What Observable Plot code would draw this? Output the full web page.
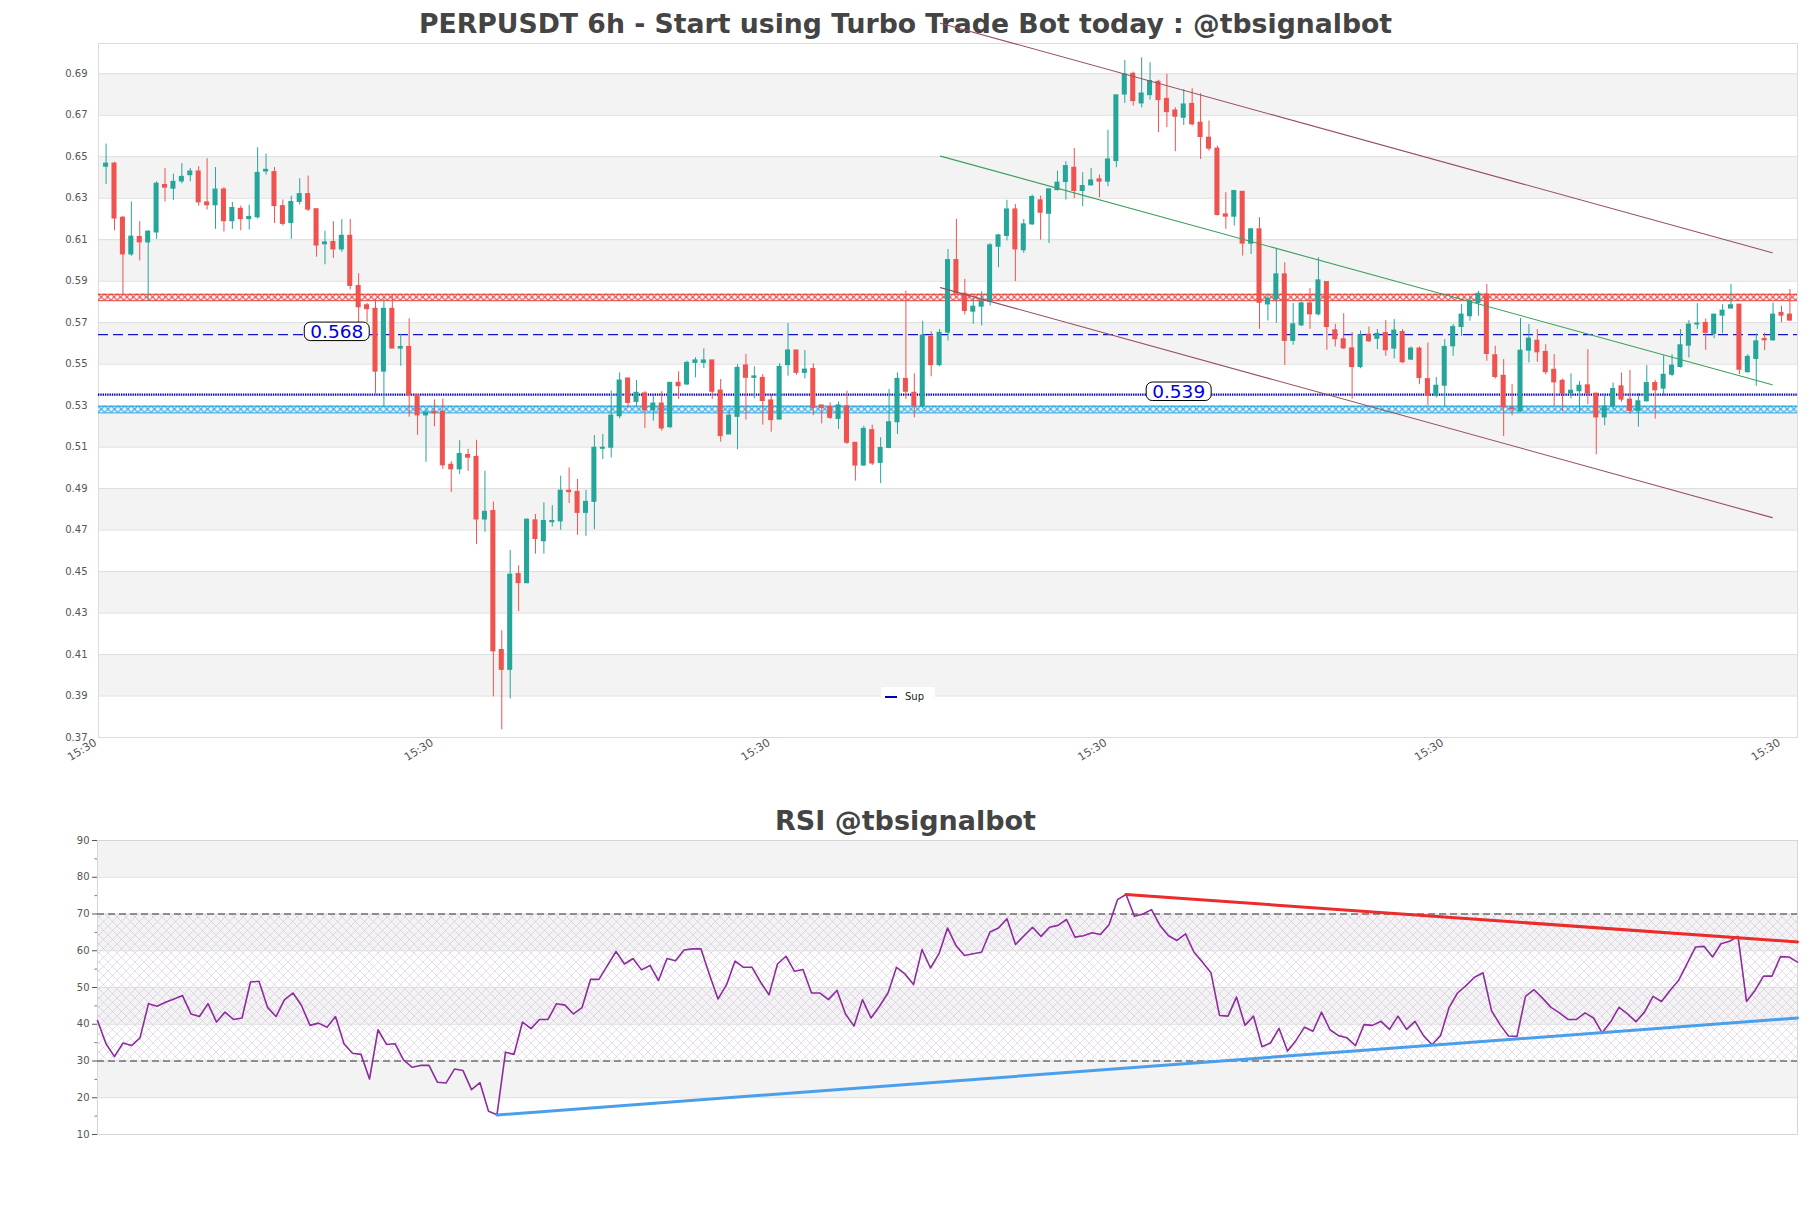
<!DOCTYPE html>
<html><head><meta charset="utf-8">
<script src="https://cdn.jsdelivr.net/npm/d3@7"></script>
<script src="https://cdn.jsdelivr.net/npm/@observablehq/plot@0.6"></script>
<style>
body{margin:0;background:#fff;}
#wrap{width:1811px;}
#wrap svg{display:block;overflow:visible;}
</style></head><body><div id="wrap"></div>
<script>
// ---------------- DATA ----------------
const mainTitle = "PERPUSDT 6h - Start using Turbo Trade Bot today : @tbsignalbot";
const rsiTitle = "RSI @tbsignalbot";

const opens = [0.6452,0.6467,0.6206,0.6029,0.6113,0.6087,0.6135,0.6364,0.6346,0.6381,
0.6411,0.6429,0.6280,0.6266,0.6342,0.6189,0.6249,0.6199,0.6208,0.6429,
0.6426,0.6262,0.6180,0.6282,0.6320,0.6247,0.6078,0.6089,0.6053,0.6119,
0.5877,0.5784,0.5767,0.5464,0.5767,0.5575,0.5583,0.5350,0.5253,0.5270,
0.5270,0.5015,0.4993,0.5062,0.5053,0.4751,0.4792,0.4122,0.4026,0.4488,
0.4444,0.4747,0.4646,0.4738,0.4742,0.4890,0.4884,0.4783,0.4836,0.5092,
0.5097,0.5249,0.5431,0.5318,0.5359,0.5278,0.5310,0.5196,0.5410,0.5402,
0.5506,0.5506,0.5518,0.5373,0.5161,0.5246,0.5494,0.5434,0.5434,0.5325,
0.5233,0.5495,0.5566,0.5458,0.5477,0.5301,0.5293,0.5236,0.5297,0.5121,
0.5011,0.5182,0.5024,0.5096,0.5220,0.5429,0.5362,0.5297,0.5632,0.5495,
0.5652,0.6002,0.5840,0.5753,0.5777,0.5801,0.6066,0.6118,0.6246,0.6049,
0.6174,0.6290,0.6225,0.6339,0.6378,0.6447,0.6335,0.6362,0.6391,0.6380,
0.6479,0.6800,0.6900,0.6757,0.6797,0.6861,0.6779,0.6723,0.6688,0.6755,
0.6664,0.6592,0.6539,0.6222,0.6211,0.6331,0.6081,0.6150,0.5788,0.5812,
0.5933,0.5612,0.5687,0.5793,0.5740,0.5896,0.5663,0.5620,0.5576,0.5486,
0.5642,0.5622,0.5650,0.5575,0.5655,0.5522,0.5575,0.5428,0.5348,0.5396,
0.5586,0.5679,0.5731,0.5795,0.5836,0.5543,0.5444,0.5288,0.5272,0.5565,
0.5613,0.5559,0.5473,0.5420,0.5358,0.5369,0.5398,0.5358,0.5243,0.5296,
0.5393,0.5329,0.5275,0.5321,0.5409,0.5382,0.5449,0.5486,0.5589,0.5691,
0.5699,0.5646,0.5734,0.5768,0.5787,0.5461,0.5525,0.5621,0.5615,0.5747,
0.5739];
const highs = [0.6561,0.6474,0.6213,0.6282,0.6187,0.6143,0.6379,0.6444,0.6416,0.6467,
0.6444,0.6452,0.6491,0.6448,0.6351,0.6280,0.6262,0.6266,0.6543,0.6513,
0.6448,0.6292,0.6310,0.6394,0.6407,0.6247,0.6141,0.6187,0.6197,0.6197,
0.5936,0.5793,0.5812,0.5812,0.5830,0.5644,0.5719,0.5350,0.5276,0.5328,
0.5332,0.5030,0.5131,0.5090,0.5133,0.4984,0.4835,0.4215,0.4602,0.4528,
0.4755,0.4775,0.4831,0.4818,0.4960,0.5000,0.4944,0.4891,0.5156,0.5161,
0.5370,0.5458,0.5431,0.5421,0.5367,0.5350,0.5367,0.5410,0.5463,0.5514,
0.5531,0.5574,0.5518,0.5426,0.5285,0.5498,0.5547,0.5487,0.5450,0.5354,
0.5503,0.5696,0.5566,0.5566,0.5502,0.5301,0.5313,0.5318,0.5370,0.5121,
0.5201,0.5206,0.5145,0.5378,0.5458,0.5852,0.5453,0.5707,0.5656,0.5667,
0.6053,0.6198,0.5909,0.5820,0.5849,0.6081,0.6126,0.6290,0.6270,0.6198,
0.6315,0.6310,0.6343,0.6431,0.6476,0.6540,0.6423,0.6444,0.6412,0.6628,
0.6796,0.6964,0.6908,0.6977,0.6953,0.6869,0.6897,0.6736,0.6824,0.6828,
0.6804,0.6672,0.6551,0.6327,0.6335,0.6331,0.6155,0.6206,0.5837,0.6053,
0.5989,0.5792,0.5800,0.5865,0.6013,0.5896,0.5692,0.5743,0.5652,0.5660,
0.5679,0.5667,0.5710,0.5715,0.5667,0.5583,0.5583,0.5602,0.5436,0.5618,
0.5691,0.5787,0.5824,0.5852,0.5884,0.5586,0.5522,0.5401,0.5720,0.5691,
0.5667,0.5594,0.5546,0.5428,0.5454,0.5417,0.5570,0.5358,0.5348,0.5409,
0.5457,0.5469,0.5358,0.5493,0.5422,0.5541,0.5546,0.5667,0.5710,0.5792,
0.5718,0.5739,0.5787,0.5884,0.5787,0.5546,0.5646,0.5650,0.5795,0.5779,
0.5860];
const lows = [0.6366,0.6143,0.5830,0.6020,0.5998,0.5802,0.6102,0.6282,0.6290,0.6370,
0.6379,0.6262,0.6243,0.6150,0.6137,0.6150,0.6143,0.6147,0.6199,0.6411,
0.6178,0.6165,0.6102,0.6267,0.6236,0.6016,0.5979,0.6010,0.6039,0.5858,
0.5700,0.5700,0.5356,0.5291,0.5575,0.5490,0.5244,0.5157,0.5027,0.5198,
0.4993,0.4881,0.4968,0.4983,0.4630,0.4690,0.3896,0.3737,0.3886,0.4307,
0.4441,0.4584,0.4584,0.4715,0.4699,0.4828,0.4675,0.4670,0.4702,0.5040,
0.5048,0.5236,0.5289,0.5297,0.5190,0.5225,0.5177,0.5188,0.5330,0.5397,
0.5434,0.5479,0.5330,0.5124,0.5161,0.5088,0.5230,0.5333,0.5206,0.5172,
0.5230,0.5442,0.5447,0.5429,0.5252,0.5212,0.5233,0.5185,0.5113,0.4936,
0.5008,0.5011,0.4924,0.5092,0.5161,0.5330,0.5241,0.5289,0.5439,0.5487,
0.5612,0.5837,0.5737,0.5692,0.5684,0.5780,0.5965,0.6094,0.5898,0.6034,
0.6169,0.6098,0.6082,0.6335,0.6291,0.6298,0.6259,0.6359,0.6302,0.6355,
0.6447,0.6757,0.6744,0.6736,0.6773,0.6616,0.6640,0.6524,0.6651,0.6648,
0.6487,0.6527,0.6214,0.6150,0.6166,0.6021,0.6029,0.5668,0.5708,0.5697,
0.5494,0.5591,0.5681,0.5668,0.5732,0.5567,0.5583,0.5571,0.5331,0.5478,
0.5605,0.5570,0.5538,0.5525,0.5502,0.5517,0.5401,0.5300,0.5337,0.5296,
0.5538,0.5634,0.5707,0.5731,0.5514,0.5428,0.5151,0.5251,0.5269,0.5506,
0.5509,0.5449,0.5296,0.5272,0.5332,0.5264,0.5304,0.5063,0.5203,0.5280,
0.5316,0.5259,0.5197,0.5317,0.5235,0.5345,0.5441,0.5481,0.5530,0.5667,
0.5567,0.5622,0.5647,0.5768,0.5449,0.5457,0.5393,0.5565,0.5610,0.5699,
0.5707];
const closes = [0.6467,0.6202,0.6029,0.6115,0.6087,0.6139,0.6370,0.6351,0.6379,0.6403,
0.6429,0.6280,0.6266,0.6342,0.6189,0.6253,0.6199,0.6210,0.6422,0.6437,
0.6262,0.6176,0.6282,0.6320,0.6245,0.6072,0.6087,0.6053,0.6119,0.5877,
0.5774,0.5765,0.5464,0.5767,0.5575,0.5583,0.5350,0.5253,0.5267,0.5263,
0.5012,0.4993,0.5067,0.5049,0.4751,0.4788,0.4115,0.4026,0.4485,0.4444,
0.4750,0.4657,0.4744,0.4744,0.4890,0.4883,0.4783,0.4836,0.5097,0.5097,
0.5252,0.5421,0.5313,0.5362,0.5278,0.5310,0.5190,0.5410,0.5394,0.5506,
0.5518,0.5518,0.5367,0.5153,0.5252,0.5482,0.5434,0.5441,0.5322,0.5230,
0.5487,0.5566,0.5458,0.5474,0.5289,0.5289,0.5241,0.5301,0.5121,0.5011,
0.5188,0.5021,0.5096,0.5220,0.5429,0.5367,0.5297,0.5638,0.5495,0.5651,
0.6002,0.5840,0.5756,0.5777,0.5801,0.6073,0.6121,0.6246,0.6053,0.6174,
0.6306,0.6230,0.6343,0.6375,0.6455,0.6335,0.6359,0.6386,0.6380,0.6487,
0.6796,0.6897,0.6768,0.6805,0.6865,0.6773,0.6715,0.6693,0.6752,0.6656,
0.6595,0.6539,0.6219,0.6211,0.6335,0.6081,0.6150,0.5796,0.5816,0.5933,
0.5612,0.5692,0.5793,0.5740,0.5904,0.5679,0.5620,0.5576,0.5486,0.5639,
0.5610,0.5646,0.5567,0.5662,0.5509,0.5575,0.5433,0.5348,0.5396,0.5583,
0.5679,0.5739,0.5803,0.5839,0.5549,0.5438,0.5291,0.5282,0.5565,0.5623,
0.5557,0.5461,0.5412,0.5358,0.5372,0.5396,0.5358,0.5243,0.5296,0.5380,
0.5329,0.5275,0.5321,0.5409,0.5374,0.5449,0.5493,0.5591,0.5691,0.5696,
0.5651,0.5739,0.5758,0.5784,0.5473,0.5535,0.5610,0.5615,0.5739,0.5734,
0.5710];

const rsiValues = [41.0,34.7,31.2,34.9,34.2,36.3,45.6,44.9,46.0,46.9,
47.8,42.8,42.1,45.6,40.6,43.3,41.3,41.7,51.5,51.7,
44.6,42.1,46.7,48.5,45.1,39.7,40.3,39.2,42.1,34.7,
32.1,31.8,25.1,38.5,34.5,34.7,30.3,28.3,28.8,28.8,
24.2,24.0,27.8,27.4,22.2,24.1,16.3,15.4,32.4,31.8,
40.6,38.8,41.3,41.3,45.6,45.2,42.8,44.5,52.2,52.2,
56.0,59.8,56.4,57.9,54.8,56.0,51.9,57.9,57.3,60.2,
60.5,60.5,53.5,46.9,50.7,57.2,55.5,55.5,51.5,48.0,
56.4,58.5,54.4,54.9,48.5,48.5,46.7,49.2,42.8,39.5,
46.7,41.7,44.9,48.5,55.5,53.7,50.8,60.3,55.3,59.2,
66.2,61.4,58.7,59.2,59.6,65.1,66.2,68.7,61.7,64.1,
66.4,63.9,66.4,66.9,68.5,63.7,64.1,64.9,64.4,67.1,
73.9,75.3,69.4,70.0,71.2,66.9,64.1,62.8,64.6,59.6,
56.9,54.0,42.4,42.2,47.4,39.7,42.2,33.9,34.9,38.9,
32.7,35.6,39.2,38.1,43.3,38.5,36.9,36.3,34.2,39.9,
39.7,40.8,38.6,42.2,38.6,40.8,36.9,34.4,36.9,44.5,
48.5,50.5,52.8,54.0,43.7,39.9,36.8,36.7,47.6,49.4,
47.1,44.6,43.1,41.3,41.3,43.1,41.7,37.7,40.6,44.6,
42.8,40.7,43.3,47.6,46.2,49.2,51.9,56.4,61.0,61.2,
58.3,61.9,62.6,63.9,46.2,49.2,53.1,53.1,58.4,58.3,
56.9];

// axis ticks
const priceTicks = [0.37,0.39,0.41,0.43,0.45,0.47,0.49,0.51,0.53,0.55,0.57,0.59,0.61,0.63,0.65,0.67,0.69];
const priceBands = [[0.67,0.69],[0.63,0.65],[0.59,0.61],[0.55,0.57],[0.51,0.53],[0.47,0.49],[0.43,0.45],[0.39,0.41]];
const timeTicks = [-0.9, 39.1, 79.1, 119.1, 159.1, 199.1];
const timeTickLabel = "15:30";
const rsiTicks = [10,20,30,40,50,60,70,80,90];
const rsiMinorTicks = [15,25,35,45,55,65,75,85];
const rsiBands = [[80,90],[60,70],[40,50],[20,30]];
const rsiZone = [30, 70];
const rsiLevels = [30, 70];

// levels
const resistanceZone = [0.5806, 0.5837];
const supportZone = [0.5265, 0.5297];
const dashedLevel = 0.5642;
const dottedLevel = 0.5353;
const levelLabels = [
  {i: 27.4, v: 0.5647, text: "0.568"},
  {i: 127.4, v: 0.5358, text: "0.539"}
];
// channel lines [i, price]
const channelUpper = [[99.1, 0.7144], [197.9, 0.6037]];
const channelLower = [[99.1, 0.5869], [197.9, 0.4760]];
const channelMid   = [[99.1, 0.6503], [197.9, 0.5401]];
// RSI trend lines [i, value]
const rsiSupport = [[47, 15.3], [200, 41.7]];
const rsiResistance = [[121, 75.3], [200, 62.4]];
const legendLabel = "Sup";

// ---------------- BUILD ----------------
const UP = "#26a69a", DOWN = "#ef5350";
const candles = opens.map((o, i) => ({
  i, o, h: highs[i], l: lows[i], c: closes[i],
  col: closes[i] >= o ? UP : DOWN
}));
const rsiData = rsiValues.map((v, i) => ({i, v}));

const FONT = "DejaVu Sans, sans-serif";
const xDomain = [-0.9, 200.9];

const main = Plot.plot({
  width: 1811, height: 800,
  marginLeft: 98, marginRight: 14, marginTop: 43, marginBottom: 63,
  x: {domain: xDomain, axis: null},
  y: {domain: [0.37, 0.7046], axis: null},
  style: {fontFamily: FONT, fontSize: "10px", background: "#fff", overflow: "visible"},
  marks: [
    Plot.rect(priceBands, {y1: d => d[0], y2: d => d[1], fill: "#f3f3f3"}),
    Plot.ruleY(priceTicks, {stroke: "#dedede", strokeWidth: 1}),
    Plot.frame({stroke: "#dcdcdc"}),
    Plot.axisY({ticks: priceTicks, tickFormat: d3.format(".2f"), tickSize: 0, tickPadding: 11, fontSize: 10, color: "#555", label: null}),
    Plot.axisX({ticks: timeTicks, tickFormat: () => timeTickLabel, tickRotate: -32, tickSize: 0, tickPadding: 4, dx: -3, fontSize: 11, color: "#555", label: null}),
    // hatched zones
    Plot.rect([resistanceZone], {y1: d => d[0], y2: d => d[1], fill: "url(#hatchRed)"}),
    Plot.ruleY(resistanceZone, {stroke: "#e53935", strokeWidth: 1}),
    Plot.rect([supportZone], {y1: d => d[0], y2: d => d[1], fill: "url(#hatchCyan)"}),
    Plot.ruleY(supportZone, {stroke: "#1ea5e6", strokeWidth: 1}),
    // levels
    Plot.ruleY([dashedLevel], {stroke: "#1414c8", strokeWidth: 1.3, strokeDasharray: "10,5"}),
    Plot.ruleY([dottedLevel], {stroke: "#0000c8", strokeWidth: 2.2, strokeDasharray: "1.4,0.9"}),
    // candles
    Plot.ruleX(candles, {x: "i", y1: "l", y2: "h", stroke: "col", strokeWidth: 1}),
    Plot.rect(candles, {x1: d => d.i - 0.3, x2: d => d.i + 0.3, y1: d => Math.min(d.o, d.c), y2: d => Math.max(d.o, d.c), fill: "col", insetTop: -0.5, insetBottom: -0.5}),
    // channel
    Plot.line(channelUpper, {x: d => d[0], y: d => d[1], stroke: "#96505f", strokeWidth: 1.1}),
    Plot.line(channelLower, {x: d => d[0], y: d => d[1], stroke: "#96505f", strokeWidth: 1.1}),
    Plot.line(channelMid, {x: d => d[0], y: d => d[1], stroke: "#3c9f5c", strokeWidth: 1.1}),
    // labels
    Plot.text(levelLabels, {x: "i", y: "v", text: "text", fill: "#0000e0", fontSize: 18.5, fontFamily: FONT, dy: -2})
  ]
});

const rsiPlot = Plot.plot({
  width: 1811, height: 408,
  marginLeft: 97, marginRight: 14, marginTop: 40, marginBottom: 74,
  x: {domain: [0, 200], axis: null},
  y: {domain: [10, 90], axis: null},
  style: {fontFamily: FONT, fontSize: "10px", background: "#fff", overflow: "visible"},
  marks: [
    Plot.rect(rsiBands, {y1: d => d[0], y2: d => d[1], fill: "#f3f3f3"}),
    Plot.rect([rsiZone], {y1: d => d[0], y2: d => d[1], fill: "url(#hatchPurple)"}),
    Plot.ruleY(rsiTicks, {stroke: "#dedede"}),
    Plot.frame({stroke: "#d6d6d6"}),
    Plot.axisY({ticks: rsiTicks, tickSize: 5, tickPadding: 3, fontSize: 10, color: "#555", label: null}),
    Plot.axisY({ticks: rsiMinorTicks, tickSize: 2.5, tickFormat: () => "", color: "#777", label: null}),
    Plot.ruleY(rsiLevels, {stroke: "#333", strokeWidth: 1, strokeDasharray: "7,4"}),
    Plot.line(rsiData, {x: "i", y: "v", stroke: "#8e2c9e", strokeWidth: 1.6}),
    Plot.line(rsiSupport, {x: d => d[0], y: d => d[1], stroke: "#4a9fec", strokeWidth: 3}),
    Plot.line(rsiResistance, {x: d => d[0], y: d => d[1], stroke: "#ec2b2b", strokeWidth: 3})
  ]
});

const wrap = document.getElementById("wrap");
wrap.appendChild(main);
wrap.appendChild(rsiPlot);

// ---------- decorations (patterns, titles, label boxes, legend) ----------
const ys = main.scale("y");
function addHatch(svgSel, id, top, h, color, width) {
  let defs = svgSel.select("defs");
  if (defs.empty()) defs = svgSel.insert("defs", ":first-child");
  const p = defs.append("pattern").attr("id", id).attr("patternUnits", "userSpaceOnUse")
    .attr("x", 98).attr("y", top).attr("width", h).attr("height", h);
  p.append("path").attr("d", `M0,0L${h},${h}M0,${h}L${h},0`)
    .attr("stroke", color).attr("stroke-width", width).attr("fill", "none");
}
const mainSel = d3.select(main);
{
  const t = ys.apply(resistanceZone[1]), b = ys.apply(resistanceZone[0]);
  addHatch(mainSel, "hatchRed", t, b - t, "#e53935", 1.1);
  const t2 = ys.apply(supportZone[1]), b2 = ys.apply(supportZone[0]);
  addHatch(mainSel, "hatchCyan", t2, b2 - t2, "#1ea5e6", 1.1);
}
{
  const rsel = d3.select(rsiPlot);
  const defs = rsel.insert("defs", ":first-child");
  const p = defs.append("pattern").attr("id", "hatchPurple").attr("patternUnits", "userSpaceOnUse")
    .attr("width", 9).attr("height", 9);
  p.append("path").attr("d", "M0,0L9,9M0,9L9,0").attr("stroke", "#c6b0d6")
    .attr("stroke-width", 0.6).attr("fill", "none").attr("opacity", 0.75);
  rsel.insert("text", "defs + *").attr("x", 905.5).attr("y", 30).attr("text-anchor", "middle")
    .attr("font-family", FONT).attr("font-weight", "bold").attr("font-size", 27).attr("fill", "#444")
    .text(rsiTitle);
}
// main title (behind marks)
mainSel.insert("text", "defs + *").attr("x", 905.5).attr("y", 33).attr("text-anchor", "middle")
  .attr("font-family", FONT).attr("font-weight", "bold").attr("font-size", 26.7).attr("fill", "#444")
  .text(mainTitle);

// label boxes (text elements are positioned by transform)
const labelTexts = new Set(levelLabels.map(d => d.text));
mainSel.selectAll("text").each(function() {
  if (!labelTexts.has(this.textContent)) return;
  const bb = this.getBBox();
  const tr = this.getAttribute("transform");
  const r = d3.select(this.parentNode).insert("rect", () => this)
    .attr("x", bb.x - 6).attr("y", bb.y + 1.5).attr("width", bb.width + 12).attr("height", bb.height - 2.5)
    .attr("rx", 6).attr("ry", 6).attr("fill", "#fff").attr("stroke", "#000").attr("stroke-width", 1);
  if (tr) r.attr("transform", tr);
});

// legend
const lg = mainSel.append("g").attr("text-anchor", "start");
lg.append("rect").attr("x", 881).attr("y", 687).attr("width", 54).attr("height", 18).attr("fill", "#fff").attr("rx", 2);
lg.append("line").attr("x1", 885).attr("x2", 897).attr("y1", 697).attr("y2", 697).attr("stroke", "#0000c0").attr("stroke-width", 2);
lg.append("text").attr("x", 905).attr("y", 700).attr("text-anchor", "start").attr("font-family", FONT).attr("font-size", 10).attr("fill", "#222").text(legendLabel);
</script>
</body></html>
